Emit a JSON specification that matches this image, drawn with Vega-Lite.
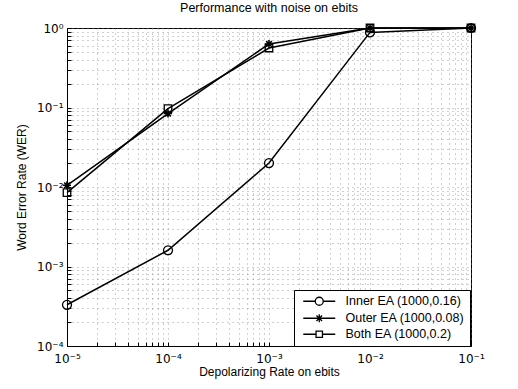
{
  "$schema": "https://vega.github.io/schema/vega-lite/v6.json",
  "width": 404,
  "height": 318,
  "autosize": "none",
  "padding": {"left": 67, "top": 28, "right": 47, "bottom": 43},
  "background": "white",
  "config": {
    "font": "Liberation Sans",
    "view": {"stroke": "black", "strokeWidth": 1},
    "axis": {
      "domainColor": "black",
      "tickColor": "black",
      "labelColor": "black",
      "titleColor": "black",
      "labelFont": "DejaVu Sans",
      "titleFont": "Liberation Sans",
      "labelFontSize": 12,
      "titleFontSize": 12,
      "titleFontWeight": "normal",
      "gridColor": "#777777",
      "gridDash": [1, 4],
      "gridOpacity": 0.7,
      "gridWidth": 1,
      "labelOverlap": false,
      "labelFlush": false
    }
  },
  "title": {
    "text": "Performance with noise on ebits",
    "fontSize": 12.5,
    "fontWeight": "normal",
    "font": "Liberation Sans",
    "color": "black",
    "offset": 6
  },
  "data": {
    "values": [
      {"series": "Inner EA (1000,0.16)", "rate": 0.00001, "wer": 0.00033},
      {"series": "Inner EA (1000,0.16)", "rate": 0.0001, "wer": 0.0016},
      {"series": "Inner EA (1000,0.16)", "rate": 0.001, "wer": 0.02},
      {"series": "Inner EA (1000,0.16)", "rate": 0.01, "wer": 0.88},
      {"series": "Inner EA (1000,0.16)", "rate": 0.1, "wer": 1.0},
      {"series": "Outer EA (1000,0.08)", "rate": 0.00001, "wer": 0.0105},
      {"series": "Outer EA (1000,0.08)", "rate": 0.0001, "wer": 0.084},
      {"series": "Outer EA (1000,0.08)", "rate": 0.001, "wer": 0.63},
      {"series": "Outer EA (1000,0.08)", "rate": 0.01, "wer": 1.0},
      {"series": "Outer EA (1000,0.08)", "rate": 0.1, "wer": 1.0},
      {"series": "Both EA (1000,0.2)", "rate": 0.00001, "wer": 0.0085},
      {"series": "Both EA (1000,0.2)", "rate": 0.0001, "wer": 0.097},
      {"series": "Both EA (1000,0.2)", "rate": 0.001, "wer": 0.56},
      {"series": "Both EA (1000,0.2)", "rate": 0.01, "wer": 1.0},
      {"series": "Both EA (1000,0.2)", "rate": 0.1, "wer": 1.0}
    ]
  },
  "encoding": {
    "x": {
      "field": "rate",
      "type": "quantitative",
      "scale": {"type": "log", "domain": [0.00001, 0.1], "nice": false},
      "axis": {
        "title": "Depolarizing Rate on ebits",
        "titlePadding": 2,
        "values": [0.00001, 0.00002, 0.00003, 0.00004, 0.00005, 0.00006, 0.00007, 0.00008, 0.00009, 0.0001, 0.0002, 0.0003, 0.0004, 0.0005, 0.0006, 0.0007, 0.0008, 0.0009, 0.001, 0.002, 0.003, 0.004, 0.005, 0.006, 0.007, 0.008, 0.009, 0.01, 0.02, 0.03, 0.04, 0.05, 0.06, 0.07, 0.08, 0.09, 0.1],
        "labelExpr": "abs(log(datum.value)/LN10 - round(log(datum.value)/LN10)) < 0.001 ? '10' + ['\u2070','\u207b\u00b9','\u207b\u00b2','\u207b\u00b3','\u207b\u2074','\u207b\u2075'][-round(log(datum.value)/LN10)] : ''",
        "grid": true,
        "tickSize": -4,
        "labelPadding": 11
      }
    },
    "y": {
      "field": "wer",
      "type": "quantitative",
      "scale": {"type": "log", "domain": [0.0001, 1], "nice": false},
      "axis": {
        "title": "Word Error Rate (WER)",
        "titlePadding": 8,
        "values": [0.0001, 0.0002, 0.0003, 0.0004, 0.0005, 0.0006, 0.0007, 0.0008, 0.0009, 0.001, 0.002, 0.003, 0.004, 0.005, 0.006, 0.007, 0.008, 0.009, 0.01, 0.02, 0.03, 0.04, 0.05, 0.06, 0.07, 0.08, 0.09, 0.1, 0.2, 0.3, 0.4, 0.5, 0.6, 0.7, 0.8, 0.9, 1],
        "labelExpr": "abs(log(datum.value)/LN10 - round(log(datum.value)/LN10)) < 0.001 ? '10' + ['\u2070','\u207b\u00b9','\u207b\u00b2','\u207b\u00b3','\u207b\u2074','\u207b\u2075'][-round(log(datum.value)/LN10)] : ''",
        "grid": true,
        "tickSize": -4,
        "labelPadding": 8
      }
    }
  },
  "layer": [
    {
      "mark": {"type": "line", "color": "black", "strokeWidth": 1.5},
      "encoding": {"detail": {"field": "series", "type": "nominal"}}
    },
    {
      "transform": [{"filter": "datum.series === 'Inner EA (1000,0.16)'"}],
      "mark": {"type": "point", "shape": "circle", "filled": false, "color": "black", "size": 80, "strokeWidth": 1.3, "opacity": 1}
    },
    {
      "transform": [{"filter": "datum.series === 'Outer EA (1000,0.08)'"}],
      "mark": {"type": "point", "shape": "M-1,0H1M0,-1V1M-0.7,-0.7L0.7,0.7M-0.7,0.7L0.7,-0.7", "filled": false, "color": "black", "size": 64, "strokeWidth": 1.6, "opacity": 1}
    },
    {
      "transform": [{"filter": "datum.series === 'Both EA (1000,0.2)'"}],
      "mark": {"type": "point", "shape": "M-1,-1H1V1H-1Z", "filled": false, "color": "black", "size": 56, "strokeWidth": 1.3, "opacity": 1}
    },
    {
      "transform": [{"filter": "datum.rate > 1"}],
      "mark": {"type": "point", "filled": false, "color": "black", "opacity": 1, "strokeWidth": 1.3},
      "encoding": {
        "shape": {
          "field": "series",
          "type": "nominal",
          "scale": {
            "domain": ["Inner EA (1000,0.16)", "Outer EA (1000,0.08)", "Both EA (1000,0.2)"],
            "range": [
              "M-4,0H-1M1,0H4M-1,0A1,1,0,1,1,1,0A1,1,0,1,1,-1,0",
              "M-4,0H4M0,-1V1M-0.7,-0.7L0.7,0.7M-0.7,0.7L0.7,-0.7",
              "M-4,0H-0.8M0.8,0H4M-0.8,-0.8H0.8V0.8H-0.8Z"
            ]
          },
          "legend": {
            "title": null,
            "orient": "none",
            "legendX": 227,
            "legendY": 262,
            "direction": "vertical",
            "padding": 5,
            "strokeColor": "black",
            "fillColor": "white",
            "symbolSize": 64,
            "symbolStrokeColor": "black",
            "symbolFillColor": "transparent",
            "symbolStrokeWidth": 1.3,
            "symbolOpacity": 1,
            "symbolOffset": 14,
            "labelOffset": 20,
            "labelFontSize": 12.5,
            "labelFont": "Liberation Sans",
            "labelColor": "black",
            "rowPadding": 3,
            "labelLimit": 300
          }
        }
      }
    }
  ]
}
